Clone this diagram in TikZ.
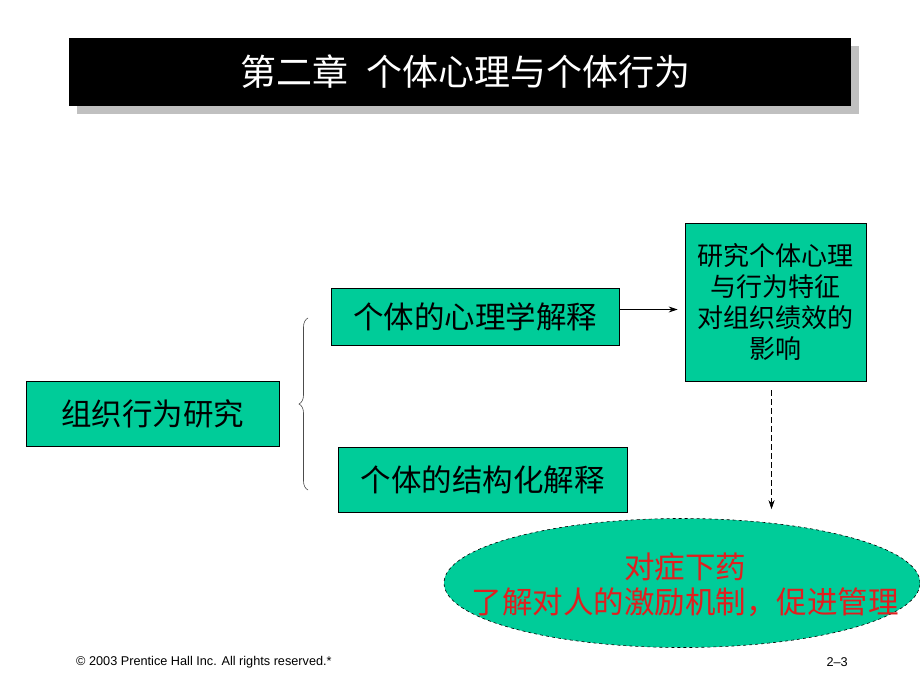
\documentclass[tikz,border=0pt]{standalone}
\usepackage{fontspec}
\newfontfamily\cjk{Noto Sans CJK SC}
\newfontfamily\arialfont{Liberation Sans}
\usetikzlibrary{shapes.geometric,arrows.meta,decorations.pathreplacing}
\definecolor{boxgreen}{RGB}{0,204,153}
\definecolor{shadowgray}{RGB}{192,192,192}
\definecolor{notered}{RGB}{225,30,30}

\begin{document}
\begin{tikzpicture}[x=1pt,y=-1pt,
		greenbox/.style={draw=black,line width=0.8pt,fill=boxgreen,inner sep=0pt,font=\cjk\fontsize{30.5}{34}\selectfont},
		footnote/.style={font=\arialfont\fontsize{12.7}{14}\selectfont,inner sep=0pt}]
		\useasboundingbox[fill=white] (0,0) rectangle (920,690);
		% title bar with shadow
		\fill[shadowgray] (77,46) rectangle (859,114);
		\fill[black] (69,38) rectangle (851,106);
		\node[text=white,font=\cjk\fontsize{36}{38}\selectfont] (title) at (465,72) {第二章\hspace{0.5em}个体心理与个体行为};
		% boxes
		\node[greenbox,minimum width=253,minimum height=65] (org) at (152.5,413.5) {组织行为研究};
		\node[greenbox,minimum width=288,minimum height=57] (psy) at (475,316.5) {个体的心理学解释};
		\node[greenbox,minimum width=289,minimum height=65] (str) at (482.5,479.5) {个体的结构化解释};
		\node[greenbox,minimum width=181,minimum height=158,align=center,font=\cjk\fontsize{26}{31}\selectfont] (eff) at (775.5,302) {研究个体心理\\与行为特征\\对组织绩效的\\影响};
		\node[draw=black,dashed,line width=0.6pt,fill=boxgreen,ellipse,minimum width=476,minimum height=129,inner sep=0pt] (cure) at (682,583) {};
		\node[align=center,text=notered,font=\cjk\fontsize{30.5}{35}\selectfont] (cure text) at ([xshift=3,yshift=-2]cure.center) {对症下药\\了解对人的激励机制，促进管理};
		% connectors
		\draw[decorate,decoration={brace,amplitude=9pt},line width=0.6pt,gray!60!black] (308,490) -- (308,318);
		\draw[-{Stealth[length=9pt,width=6pt]},line width=0.7pt,shorten >=7pt] ([yshift=7]psy.east) -- ([yshift=7]psy.east -| eff.west);
		\draw[dash pattern=on 6pt off 3pt,-{Stealth[length=9pt,width=6pt]},line width=0.6pt,shorten <=9pt,shorten >=9pt] ([xshift=-4]eff.south) -- ([xshift=-4]eff.south |- cure.north);
		% footer
		\node[footnote,anchor=west] (copy) at (76,662) {© 2003 Prentice Hall Inc. All rights reserved.*};
		\node[footnote,anchor=east] (page) at (848,662) {2–3};
\end{tikzpicture}
\end{document}
